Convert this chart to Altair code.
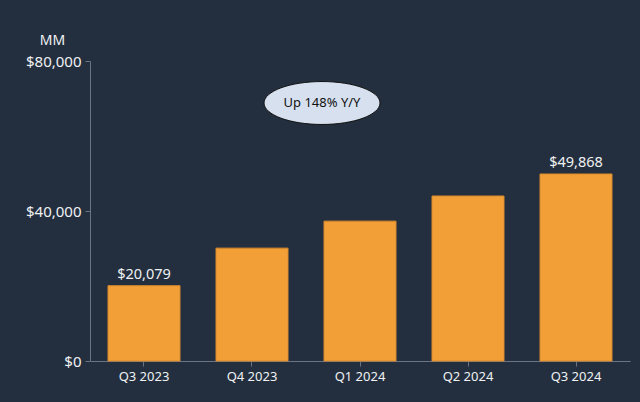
import altair as alt
import pandas as pd

quarters = ["Q3 2023", "Q4 2023", "Q1 2024", "Q2 2024", "Q3 2024"]
values = [20079, 30100, 37300, 44000, 49868]
labels = ["$20,079", "", "", "", "$49,868"]
y_ticks = [0, 40000, 80000]
note_text = "Up 148% Y/Y"

df = pd.DataFrame({"quarter": quarters, "value": values, "label": labels})

FONT = "Noto Sans"
BG = "#232F3E"
TXT = "#F0F1F3"

x_enc = alt.X(
    "quarter:N", sort=quarters, title=None,
    scale=alt.Scale(paddingInner=1/3, paddingOuter=1/6),
    axis=alt.Axis(labelAngle=0, labelFontSize=13, labelColor=TXT, labelFont=FONT,
                  domainColor="#6B7480", tickColor="#6B7480", tickSize=5, labelPadding=4),
)
y_enc = alt.Y(
    "value:Q", scale=alt.Scale(domain=[0, 80000], nice=False),
    axis=alt.Axis(values=y_ticks, format="$,.0f", labelFontSize=15, labelColor=TXT,
                  labelFont=FONT, grid=False, domainColor="#6B7480", tickColor="#6B7480",
                  tickSize=5, labelPadding=4,
                  title="MM", titleAngle=0, titleFontSize=14, titleFontWeight="normal",
                  titleColor=TXT, titleFont=FONT, titleAlign="center",
                  titleBaseline="middle", titleX=-38, titleY=-21),
)

bars = alt.Chart(df).mark_bar(color="#F29F38", stroke="#D98A2A", strokeWidth=1).encode(
    x=x_enc, y=y_enc
)

text = alt.Chart(df).mark_text(baseline="bottom", dy=-4, fontSize=14.5, color=TXT, font=FONT).encode(
    x=alt.X("quarter:N", sort=quarters), y="value:Q", text="label:N"
)

note_df = pd.DataFrame({"t": [note_text]})
ellipse = alt.Chart(note_df).mark_point(
    shape="M-1,0 A1,0.37 0 1,1 1,0 A1,0.37 0 1,1 -1,0 Z",
    size=116 * 116, filled=True, fill="#D6E0EF", stroke="#111111", strokeWidth=1, opacity=1,
).encode(x=alt.value(232), y=alt.value(42))
note = alt.Chart(note_df).mark_text(fontSize=13, color="#111111", font=FONT).encode(
    x=alt.value(232), y=alt.value(42), text="t:N"
)

chart = alt.layer(bars, text, ellipse, note).properties(
    width=540, height=300, background=BG,
    autosize=alt.AutoSizeParams(type="none"),
    padding={"left": 90, "top": 61, "right": 10, "bottom": 41},
).configure_view(stroke=None)

chart.save("out.html", embed_options={"renderer": "svg", "actions": False})
